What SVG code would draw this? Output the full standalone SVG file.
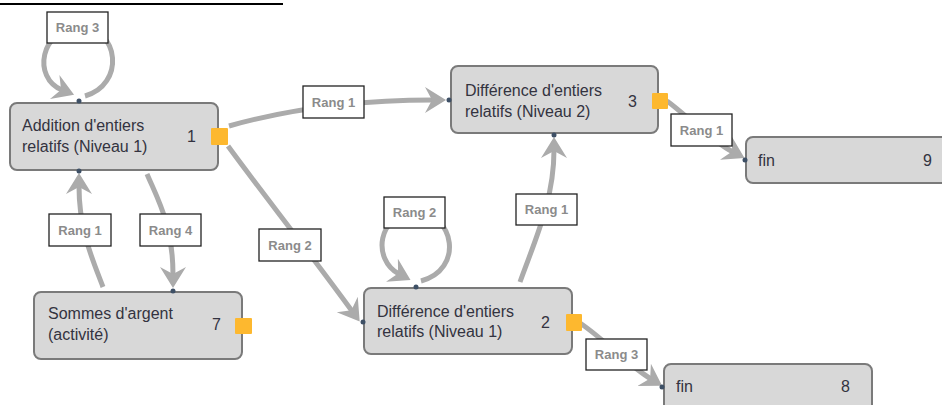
<svg xmlns="http://www.w3.org/2000/svg" width="942" height="405" viewBox="0 0 942 405">
<style>
.node{fill:#d8d8d8;stroke:#7a7a7a;stroke-width:2}
.port{fill:#fdb82f}
.dot{fill:#3e5066}
.t{font-family:"Liberation Sans",Arial,sans-serif;font-size:16px;fill:#333340}
.edge{fill:none;stroke:#ababab;stroke-width:5;marker-end:url(#arr)}
.lb{fill:#fff;stroke:#222;stroke-width:1.3}
.lt{font-family:"Liberation Sans",Arial,sans-serif;font-size:13px;font-weight:bold;fill:#8b8b8b;text-anchor:middle}
</style>
<defs>
<marker id="arr" markerWidth="22" markerHeight="28" refX="8" refY="14" orient="auto" markerUnits="userSpaceOnUse">
<path d="M0,1 L21,14 L0,27 L7,14 z" fill="#ababab"/>
</marker>
</defs>
<rect width="942" height="405" fill="#fff"/>
<line x1="0" y1="4" x2="283" y2="4" stroke="#000" stroke-width="2"/>
<g id="connectors">
<path class="edge" d="M85,96 C125,85 120,28 80,28 C40,28 32,78 62,90"/>
<path class="edge" d="M229,126 C300,106 370,100 433,100"/>
<path class="edge" d="M228,146 C260,190 300,240 352,311"/>
<path class="edge" d="M103,287 C92,258 79,230 79,186"/>
<path class="edge" d="M147,174 C158,200 173,225 173,275"/>
<path class="edge" d="M421,281 C464,270 455,213 416,213 C377,213 372,260 399,274"/>
<path class="edge" d="M520,282 C535,240 554,200 554,150"/>
<path class="edge" d="M667,101 C690,118 710,140 733,152"/>
<path class="edge" d="M580,323 C605,340 628,365 651,379"/>
<rect class="lb" x="47" y="12" width="61" height="31"/><text class="lt" x="77.5" y="32">Rang 3</text>
<rect class="lb" x="303" y="86" width="61" height="32"/><text class="lt" x="333.5" y="106.5">Rang 1</text>
<rect class="lb" x="259" y="229" width="62" height="32"/><text class="lt" x="290" y="249.5">Rang 2</text>
<rect class="lb" x="49" y="214" width="62" height="32"/><text class="lt" x="80" y="234.5">Rang 1</text>
<rect class="lb" x="140" y="214" width="61" height="32"/><text class="lt" x="170.5" y="234.5">Rang 4</text>
<rect class="lb" x="384" y="197" width="61" height="31"/><text class="lt" x="414.5" y="217">Rang 2</text>
<rect class="lb" x="516" y="194" width="61" height="31"/><text class="lt" x="546.5" y="214">Rang 1</text>
<rect class="lb" x="671" y="114" width="61" height="32"/><text class="lt" x="701.5" y="134.5">Rang 1</text>
<rect class="lb" x="586" y="339" width="61" height="31"/><text class="lt" x="616.5" y="359">Rang 3</text>
</g>
<g id="node1">
<rect class="node" x="10" y="103" width="208" height="67" rx="7"/>
<text class="t" x="22" y="131">Addition d'entiers</text>
<text class="t" x="22" y="152">relatifs (Niveau 1)</text>
<text class="t" x="187" y="142">1</text>
<rect class="port" x="211" y="128" width="17" height="17" rx="1"/>
<circle class="dot" cx="79" cy="101" r="2.5"/>
<circle class="dot" cx="79" cy="171" r="2.5"/>
</g>
<g id="node7">
<rect class="node" x="34" y="292" width="208" height="67" rx="7"/>
<text class="t" x="48" y="319">Sommes d'argent</text>
<text class="t" x="48" y="340">(activité)</text>
<text class="t" x="212" y="330">7</text>
<rect class="port" x="235" y="318" width="17" height="16" rx="1"/>
<circle class="dot" cx="173" cy="291" r="2.5"/>
</g>
<g id="node3">
<rect class="node" x="451" y="66" width="207" height="67" rx="7"/>
<text class="t" x="465" y="96">Différence d'entiers</text>
<text class="t" x="465" y="117">relatifs (Niveau 2)</text>
<text class="t" x="628" y="107">3</text>
<rect class="port" x="652" y="93" width="16" height="16" rx="1"/>
<circle class="dot" cx="449" cy="100" r="2.5"/>
<circle class="dot" cx="554" cy="135" r="2.5"/>
</g>
<g id="node9">
<rect class="node" x="746" y="137" width="210" height="46" rx="7"/>
<text class="t" x="758" y="166">fin</text>
<text class="t" x="923" y="166">9</text>
<circle class="dot" cx="745" cy="160" r="2.5"/>
</g>
<g id="node2">
<rect class="node" x="364" y="288" width="208" height="66" rx="7"/>
<text class="t" x="377" y="317">Différence d'entiers</text>
<text class="t" x="377" y="337">relatifs (Niveau 1)</text>
<text class="t" x="541" y="328">2</text>
<rect class="port" x="566" y="314" width="16" height="17" rx="1"/>
<circle class="dot" cx="416" cy="287" r="2.5"/>
<circle class="dot" cx="363" cy="322" r="2.5"/>
</g>
<g id="node8">
<rect class="node" x="664" y="364" width="208" height="50" rx="7"/>
<text class="t" x="676" y="392">fin</text>
<text class="t" x="841" y="392">8</text>
<circle class="dot" cx="662" cy="387" r="2.5"/>
</g>
</svg>
